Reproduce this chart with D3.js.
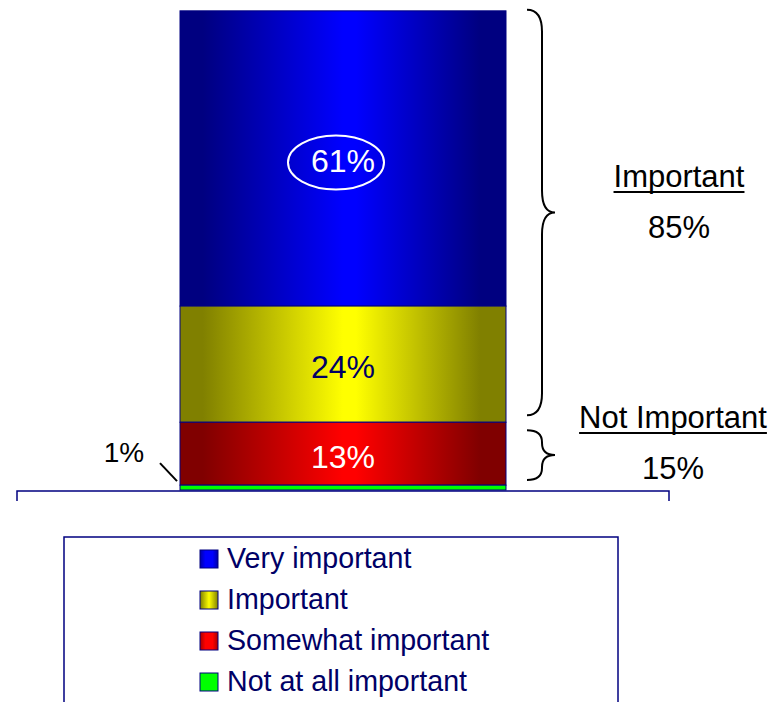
<!DOCTYPE html>
<html>
<head>
<meta charset="utf-8">
<script src="https://cdn.jsdelivr.net/npm/d3@7/dist/d3.min.js"></script>
<style>
  html, body { margin: 0; padding: 0; background: #fff; }
  svg { display: block; font-family: "Liberation Sans", Arial, sans-serif; }
</style>
</head>
<body>
<svg id="chart" width="773" height="702"></svg>
<script>
// ---- data ----
const categories = ["Very important", "Important", "Somewhat important", "Not at all important"];
const values = [61, 24, 13, 1];
const valueLabels = ["61%", "24%", "13%", "1%"];
const brightColors = ["#0000FF", "#FFFF00", "#FF0000", "#00FF00"];
const darkColors = ["#000080", "#808000", "#800000", "#00FF00"];
const labelColors = ["#FFFFFF", "#000066", "#FFFFFF", "#000000"];
const groupNames = ["Important", "Not Important"];
const groupValues = ["85%", "15%"];
const barName = ["All"];

const svg = d3.select("#chart");

// scales
const x = d3.scaleBand().domain(barName).range([17, 669]).paddingInner(0).paddingOuter(0.5);
const y = d3.scaleLinear().domain([0, 100]).range([490, 6]);

// stack (bottom = last category)
const row = { name: barName[0] };
categories.forEach((c, i) => row[c] = values[i]);
const stackKeys = categories.slice().reverse();
const series = d3.stack().keys(stackKeys)([row]);
const segs = {};
series.forEach(s => { segs[s.key] = { y0: s[0][0], y1: s[0][1] }; });

// gradients (dark-bright-dark)
const defs = svg.append("defs");
function makeGrad(id, i, stops) {
  const g = defs.append("linearGradient").attr("id", id)
    .attr("x1", "0").attr("x2", "1").attr("y1", "0").attr("y2", "0");
  const interp = d3.interpolateRgb(darkColors[i], brightColors[i]);
  stops.forEach(([o, v]) => g.append("stop").attr("offset", o).attr("stop-color", interp(v)));
}
categories.forEach((c, i) => {
  makeGrad("grad" + i, i, [[0, 0], [0.07, 0], [0.5, 1], [0.54, 1], [0.92, 0], [1, 0]]);
  makeGrad("lgrad" + i, i, i === 1
    ? [[0, 0], [0.5, 1], [1, 0]]
    : [[0, 0.3], [0.3, 1], [0.7, 1], [1, 0.3]]);
});

// bar segments
const bx = x(barName[0]), bw = x.bandwidth();
categories.forEach((c, i) => {
  const s = segs[c];
  svg.append("rect")
    .attr("x", bx).attr("width", bw)
    .attr("y", y(s.y1)).attr("height", y(s.y0) - y(s.y1))
    .attr("fill", "url(#grad" + i + ")")
    .attr("stroke", "#000080").attr("stroke-width", 1);
});

// axis baseline (category axis, no labels)
const axisG = svg.append("g").attr("transform", `translate(0,${y(0) + 1})`);
axisG.append("path")
  .attr("d", `M${x.range()[0]},10V0H${x.range()[1]}V10`)
  .attr("fill", "none").attr("stroke", "#000080").attr("stroke-width", 1.5);

// segment labels
categories.slice(0, 3).forEach((c, i) => {
  const s = segs[c];
  const mid = (y(s.y0) + y(s.y1)) / 2;
  svg.append("text")
    .attr("x", bx + bw / 2).attr("y", mid + 14)
    .attr("text-anchor", "middle").attr("font-size", 32)
    .attr("fill", labelColors[i]).text(valueLabels[i]);
});
// ellipse around top label
{
  const s = segs[categories[0]];
  const mid = (y(s.y0) + y(s.y1)) / 2;
  svg.append("ellipse")
    .attr("cx", bx + bw / 2 - 7).attr("cy", mid + 4)
    .attr("rx", 48).attr("ry", 27)
    .attr("fill", "none").attr("stroke", "#FFFFFF").attr("stroke-width", 2);
}
// small segment label with leader line
{
  const s = segs[categories[3]];
  svg.append("line")
    .attr("x1", bx - 20).attr("y1", y(s.y1) - 22)
    .attr("x2", bx - 3).attr("y2", y(s.y1) - 4)
    .attr("stroke", "#000").attr("stroke-width", 2);
  svg.append("text")
    .attr("x", 124).attr("y", 462)
    .attr("text-anchor", "middle").attr("font-size", 28)
    .attr("fill", labelColors[3]).text(valueLabels[3]);
}

// braces
function brace(x0, yTop, yBot, yTip, r) {
  const xs = x0 + 15, xt = x0 + 28;
  return `M${x0},${yTop}Q${xs},${yTop} ${xs},${yTop + r}` +
    `L${xs},${yTip - r}Q${xs},${yTip} ${xt},${yTip}` +
    `Q${xs},${yTip} ${xs},${yTip + r}` +
    `L${xs},${yBot - r}Q${xs},${yBot} ${x0},${yBot}`;
}
const braceDefs = [
  { top: y(99) - 1, bot: y(segs["Important"].y0) - 7, r: 22, lx: 679, ly: 187 },
  { top: y(segs["Somewhat important"].y1) + 8, bot: y(0) - 10, r: 12, lx: 673, ly: 428 }
];
groupNames.forEach((g, i) => {
  const b = braceDefs[i];
  const tip = (b.top + b.bot) / 2;
  svg.append("path")
    .attr("d", brace(527, b.top, b.bot, tip, b.r))
    .attr("fill", "none").attr("stroke", "#000").attr("stroke-width", 2);
  const t = svg.append("text")
    .attr("x", b.lx).attr("y", b.ly)
    .attr("text-anchor", "middle").attr("font-size", 31)
    .attr("fill", "#000").text(g);
  const tw = t.node().getComputedTextLength();
  svg.append("line")
    .attr("x1", b.lx - tw / 2).attr("x2", b.lx + tw / 2)
    .attr("y1", b.ly + 5).attr("y2", b.ly + 5)
    .attr("stroke", "#000").attr("stroke-width", 2);
  svg.append("text")
    .attr("x", b.lx).attr("y", b.ly + 51)
    .attr("text-anchor", "middle").attr("font-size", 31)
    .attr("fill", "#000").text(groupValues[i]);
});

// legend
const leg = svg.append("g");
leg.append("rect")
  .attr("x", 64).attr("y", 537).attr("width", 554).attr("height", 200)
  .attr("fill", "#fff").attr("stroke", "#000080").attr("stroke-width", 1.5);
categories.forEach((c, i) => {
  const base = 568 + i * 41;
  leg.append("rect")
    .attr("x", 200).attr("y", base - 18).attr("width", 18).attr("height", 18)
    .attr("fill", "url(#lgrad" + i + ")")
    .attr("stroke", "#000080").attr("stroke-width", 1);
  leg.append("text")
    .attr("x", 227).attr("y", base)
    .attr("font-size", 28.6).attr("fill", "#000066").text(c);
});
</script>
</body>
</html>
